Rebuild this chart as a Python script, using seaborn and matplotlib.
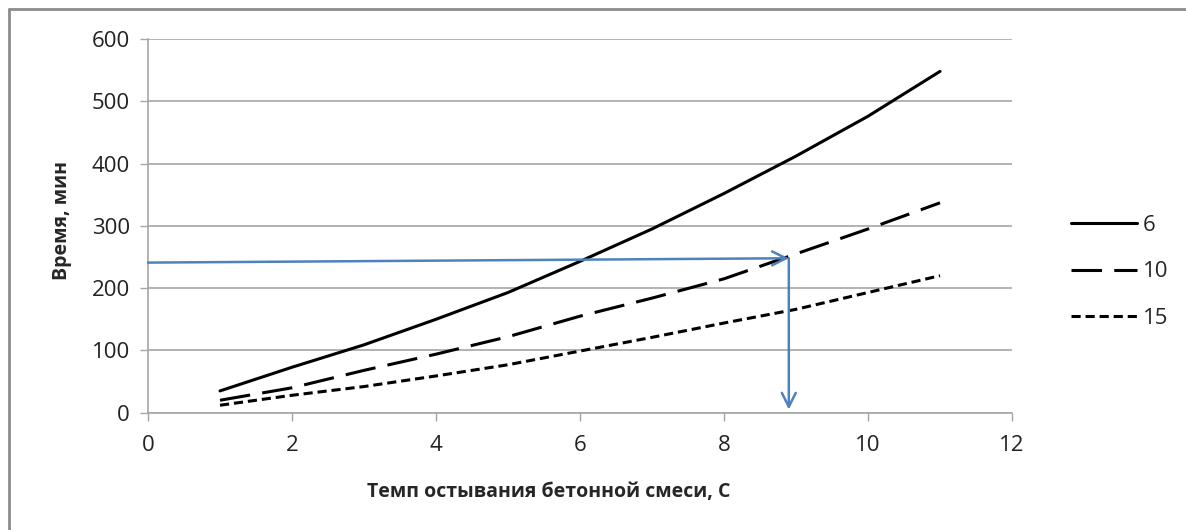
import numpy as np
import pandas as pd
import matplotlib
matplotlib.use("Agg")
import matplotlib.pyplot as plt
import seaborn as sns
from matplotlib.lines import Line2D

# ==========================================
# Data
# ==========================================

rate = [1, 2, 3, 4, 5, 6, 7, 8, 9, 10, 11]
time_6 = [35, 73, 109, 150, 193, 243, 295, 352, 412, 476, 548]
time_10 = [20, 40, 68, 94, 122, 155, 184, 215, 255, 295, 337]
time_15 = [12, 28, 42, 59, 77, 99, 121, 144, 166, 193, 220]
series_names = ["6", "10", "15"]

# blue guide arrows: horizontal then vertical
guide_x = [0, 8.9, 8.9]
guide_y = [241, 248, 5]

x_ticks = [0, 2, 4, 6, 8, 10, 12]
y_ticks = [0, 100, 200, 300, 400, 500, 600]

df = pd.DataFrame({
    "rate": rate * 3,
    "time": time_6 + time_10 + time_15,
    "series": [s for s in series_names for _ in rate],
})

# ==========================================
# Plot
# ==========================================

sns.set_style("white")
plt.rcParams["font.family"] = ["Open Sans", "DejaVu Sans"]

fig = plt.figure(figsize=(11.86, 5.30), dpi=100)
ax = fig.add_axes([0.1248, 0.2213, 0.7285, 0.7051])

ax.yaxis.grid(True, color="#a6a6a6", linewidth=1.2)
ax.set_axisbelow(True)

sns.lineplot(
    data=df,
    x="rate",
    y="time",
    hue="series",
    style="series",
    palette={"6": "black", "10": "black", "15": "black"},
    dashes={"6": "", "10": (10, 4), "15": (3, 1.6)},
    linewidth=2.2,
    legend=False,
    ax=ax,
)
for line in ax.lines:
    line.set_dash_capstyle("butt")

blue = "#4f81bd"
ax.annotate("", xy=(guide_x[1], guide_y[1]), xytext=(guide_x[0], guide_y[0]),
            arrowprops=dict(arrowstyle="->,head_length=1.0,head_width=0.5",
                            color=blue, lw=1.8, shrinkA=0, shrinkB=0))
ax.annotate("", xy=(guide_x[2], guide_y[2]), xytext=(guide_x[1], guide_y[1]),
            arrowprops=dict(arrowstyle="->,head_length=1.0,head_width=0.5",
                            color=blue, lw=1.8, shrinkA=0, shrinkB=0))

ax.set_xlim(0, 12)
ax.set_ylim(0, 600)
ax.set_xticks(x_ticks)
ax.set_yticks(y_ticks)
ax.tick_params(axis="both", labelsize=16, colors="#222222", length=6,
               width=1, direction="out")
ax.tick_params(axis="x", pad=10)
ax.tick_params(axis="y", pad=7)
ax.tick_params(axis="both", color="#a6a6a6")
ax.tick_params(left=True, bottom=True)

for side in ["top", "right"]:
    ax.spines[side].set_visible(False)
for side in ["left", "bottom"]:
    ax.spines[side].set_color("#a6a6a6")
    ax.spines[side].set_linewidth(1.2)

ax.set_xlabel("Темп остывания бетонной смеси, С", fontsize=14,
              fontweight="bold")
ax.set_ylabel("Время, мин", fontsize=14, fontweight="bold")
ax.xaxis.set_label_coords(0.4635, -0.185)
ax.yaxis.set_label_coords(-0.088, 0.515)

handles = [
    Line2D([], [], color="black", lw=2.2),
    Line2D([], [], color="black", lw=2.2, dashes=(10, 4), dash_capstyle="butt"),
    Line2D([], [], color="black", lw=2.2, dashes=(3, 1.6), dash_capstyle="butt"),
]
fig.legend(handles, series_names, loc="center left",
           bbox_to_anchor=(0.886, 0.487), frameon=False, fontsize=16,
           handlelength=3.0, handletextpad=0.25, labelspacing=1.15)

# outer chart frame (left and top edges visible in the reference)
fig.add_artist(Line2D([0.0076, 0.0076], [0.0, 0.983], transform=fig.transFigure,
                      color="#8c8c8c", lw=2))
fig.add_artist(Line2D([0.0076, 1.0], [0.983, 0.983], transform=fig.transFigure,
                      color="#8c8c8c", lw=2))

fig.savefig("out.png", dpi=100)
